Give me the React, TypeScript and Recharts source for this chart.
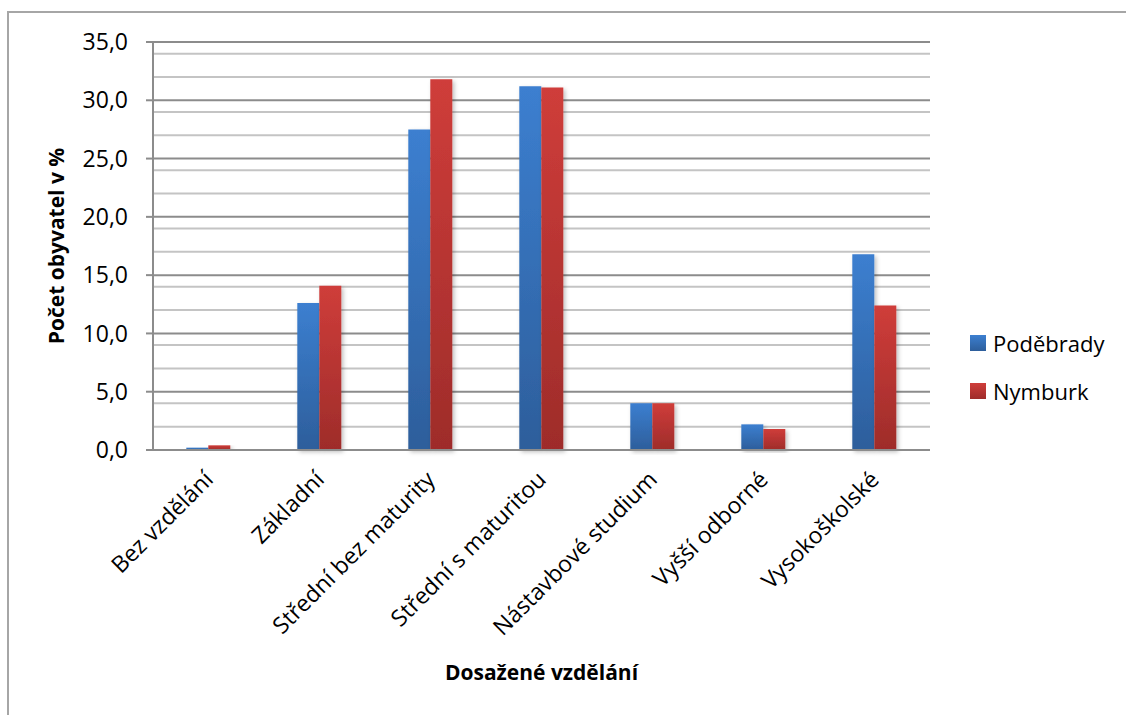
import { BarChart, Bar, XAxis, YAxis, CartesianGrid, Label } from 'recharts';

const categories = [
  'Bez vzdělání',
  'Základní',
  'Střední bez maturity',
  'Střední s maturitou',
  'Nástavbové studium',
  'Vyšší odborné',
  'Vysokoškolské',
];
const podebrady = [0.2, 12.6, 27.5, 31.2, 4.0, 2.2, 16.8];
const nymburk = [0.4, 14.1, 31.8, 31.1, 4.0, 1.8, 12.4];
const seriesNames = ['Poděbrady', 'Nymburk'];
const majorTicks = [0, 5, 10, 15, 20, 25, 30, 35];
const minorTicks = [1, 2, 3, 4, 6, 7, 8, 9, 11, 12, 13, 14, 16, 17, 18, 19, 21, 22, 23, 24, 26, 27, 28, 29, 31, 32, 33, 34];

const data = categories.map((name, i) => ({ name, podebrady: podebrady[i], nymburk: nymburk[i] }));

const FONT = '"Open Sans", sans-serif';
const legendColors = [['#3c7fd0', '#2d5e9b'], ['#cf3d3a', '#9e2c2a']];

function XTick({ x, y, payload }: any) {
  const ax = x + 6;
  const ay = y + 23;
  return (
    <text x={ax} y={ay} transform={`rotate(-45 ${ax} ${ay})`} textAnchor="end"
      fontFamily={FONT} fontSize={23} fill="#000">
      {payload.value}
    </text>
  );
}

function YTitle({ viewBox }: any) {
  const cx = 56;
  const cy = viewBox.y + viewBox.height / 2;
  return (
    <text x={cx} y={cy} transform={`rotate(-90 ${cx} ${cy})`} textAnchor="middle" dominantBaseline="central"
      fontFamily={FONT} fontSize={21} fontWeight={700} fill="#000">
      Počet obyvatel v %
    </text>
  );
}

function XTitle({ viewBox }: any) {
  const cx = viewBox.x + viewBox.width / 2;
  return (
    <text x={cx} y={680} textAnchor="middle" fontFamily={FONT} fontSize={21} fontWeight={700} fill="#000">
      Dosažené vzdělání
    </text>
  );
}

export default function App() {
  return (
    <div style={{ position: 'absolute', left: 0, top: 0, width: 1126, height: 715, background: '#fff', overflow: 'hidden' }}>
      <div style={{ position: 'absolute', left: 7, top: 11, width: 1130, height: 720, borderTop: '2px solid #a6a6a6', borderLeft: '2px solid #a6a6a6' }} />
      <BarChart width={1126} height={715} data={data} margin={{ top: 42, right: 196, bottom: 0, left: 0 }}
        barCategoryGap="30%" barGap={0} style={{ position: 'absolute', left: 0, top: 0 }}>
        <defs>
          <linearGradient id="gBlue" x1="0" y1="0" x2="0" y2="1">
            <stop offset="0%" stopColor={legendColors[0][0]} />
            <stop offset="100%" stopColor={legendColors[0][1]} />
          </linearGradient>
          <linearGradient id="gRed" x1="0" y1="0" x2="0" y2="1">
            <stop offset="0%" stopColor={legendColors[1][0]} />
            <stop offset="100%" stopColor={legendColors[1][1]} />
          </linearGradient>
          <filter id="shadow" x="-20%" y="-5%" width="150%" height="115%">
            <feDropShadow dx="2" dy="2" stdDeviation="2" floodColor="#000" floodOpacity="0.25" />
          </filter>
        </defs>
        <CartesianGrid vertical={false} horizontalValues={minorTicks} stroke="#c4c4c4" strokeWidth={2} />
        <CartesianGrid vertical={false} horizontalValues={majorTicks} stroke="#8c8c8c" strokeWidth={2} />
        <XAxis dataKey="name" interval={0} height={265} tickLine={false} tick={<XTick />}
          axisLine={{ stroke: '#8c8c8c', strokeWidth: 2 }}>
          <Label content={<XTitle />} />
        </XAxis>
        <YAxis domain={[0, 35]} ticks={majorTicks} width={153} tickSize={7} tickMargin={18}
          tickFormatter={(v: number) => v.toFixed(1).replace('.', ',')}
          tick={{ fontFamily: FONT, fontSize: 23, fill: '#000' }}
          axisLine={{ stroke: '#8c8c8c', strokeWidth: 2 }} tickLine={{ stroke: '#8c8c8c', strokeWidth: 2 }}>
          <Label content={<YTitle />} />
        </YAxis>
        <Bar dataKey="podebrady" name={seriesNames[0]} fill="url(#gBlue)" filter="url(#shadow)" isAnimationActive={false} />
        <Bar dataKey="nymburk" name={seriesNames[1]} fill="url(#gRed)" filter="url(#shadow)" isAnimationActive={false} />
      </BarChart>
      <div style={{ position: 'absolute', left: 970, top: 319, fontFamily: FONT, fontSize: 22, color: '#000' }}>
        {seriesNames.map((n, i) => (
          <div key={n} style={{ display: 'flex', alignItems: 'center', height: 48 }}>
            <span style={{ width: 16, height: 16, marginRight: 7,
              background: `linear-gradient(${legendColors[i][0]}, ${legendColors[i][1]})` }} />
            {n}
          </div>
        ))}
      </div>
    </div>
  );
}
